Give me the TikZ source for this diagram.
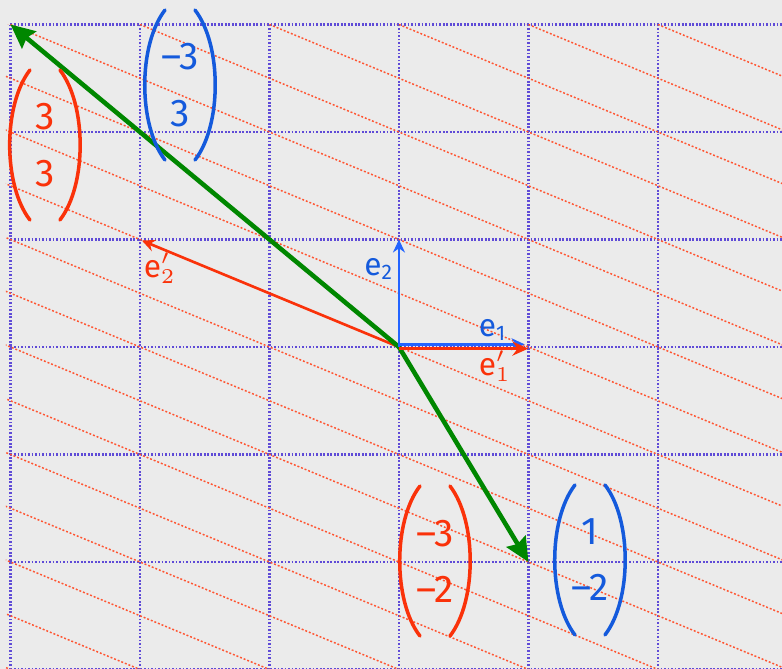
\documentclass[tikz,border=0pt]{standalone}
\usepackage{amsmath}
\usepackage{fontspec}
\setmainfont{Fira Sans}
\usepackage{tikz}
\usetikzlibrary{arrows.meta}
\definecolor{bgc}{RGB}{235,235,235}
\definecolor{gridc}{RGB}{95,75,215}
\definecolor{dotc}{RGB}{255,85,50}
\definecolor{redc}{RGB}{250,50,10}
\definecolor{bluec}{RGB}{20,90,220}
\definecolor{arrc}{RGB}{35,100,255}
\definecolor{greenc}{RGB}{0,135,0}

% hand drawn brackets round a column vector node
\newcommand\vecparens[2]{%
  \draw[#2,line width=1pt,line cap=round]
    ([shift={(-0.15cm,0.75cm)}]#1.center) .. controls ([shift={(-0.42cm,0.4cm)}]#1.center)
      and ([shift={(-0.42cm,-0.4cm)}]#1.center) .. ([shift={(-0.15cm,-0.75cm)}]#1.center)
    ([shift={(0.15cm,0.75cm)}]#1.center) .. controls ([shift={(0.42cm,0.4cm)}]#1.center)
      and ([shift={(0.42cm,-0.4cm)}]#1.center) .. ([shift={(0.15cm,-0.75cm)}]#1.center);}

\begin{document}
\begin{tikzpicture}[x=1.295cm,y=1.075cm,
  gridline/.style={gridc,line width=0.6pt,dash pattern=on 0.5pt off 0.5pt},
  dotline/.style={dotc,line width=0.42pt,dash pattern=on 0.55pt off 0.55pt},
  basis/.style={line width=0.75pt,-{Stealth[length=0.13cm,width=0.12cm]}},
  image/.style={greenc,line width=1.3pt,-{Stealth[length=0.24cm,width=0.22cm,inset=0.03cm]}},
  vec/.style={align=center,inner sep=0pt,font=\fontsize{11}{16}\selectfont},
  lbl/.style={inner sep=0pt,font=\fontsize{9}{10}\selectfont}]
  \fill[bgc] (-3.081,-2.995) rectangle (2.958,3.228);
  \useasboundingbox (-3.081,-2.995) rectangle (2.958,3.228);
  % grid
  \foreach \i in {-3,...,2} \draw[gridline] (\i,-3) -- (\i,3);
  \foreach \j in {-3,...,3} \draw[gridline] (-3,\j) -- (2.958,\j);
  % lines x+2y=k
  \begin{scope}
    \clip (-3.035,-3) rectangle (2.958,3);
    \foreach \k in {-10,...,10} \draw[dotline] (\k+7,-3.5) -- (\k-7,3.5);
  \end{scope}
  \coordinate (o) at (0,0);
  \coordinate (o1) at (0,0.025);
  \coordinate (o2) at (0,-0.015);
  \coordinate (e1) at (0.97,0.025);
  \coordinate (e2) at (0,1);
  \coordinate (f1) at (1,-0.015);
  \coordinate (f2) at (-1.985,0.99);
  \coordinate (u) at (-3,3);
  \coordinate (w) at (1,-2);
  \draw[basis,redc] (o) -- (f2);
  \draw[image] (o) -- (u);
  \draw[image] (o) -- (w);
  \draw[basis,arrc] (o) -- (e2);
  \draw[basis,arrc] (o1) -- (e1);
  \draw[basis,redc,-{Stealth[length=0.16cm,width=0.14cm]}] (o2) -- (f1);
  \node[lbl,bluec] (le2) at (-0.154,0.726) {e\textsubscript{2}};
  \node[lbl,bluec] (le1) at (0.726,0.158) {e\textsubscript{1}};
  \node[lbl,redc] (lf1) at (0.741,-0.177) {e$^{\prime}_{1}$};
  \node[lbl,redc] (lf2) at (-1.846,0.735) {e$^{\prime}_{2}$};
  % coordinate columns
  \node[vec,redc] (ur) at (-2.734,1.879) {3\\3};
  \node[vec,bluec] (ub) at (-1.691,2.437) {--3\\3};
  \node[vec,redc] (wr) at (0.278,-1.991) {--3\\--2};
  \node[vec,bluec] (wb) at (1.475,-1.981) {1\\--2};
  \vecparens{ur}{redc}
  \vecparens{ub}{bluec}
  \vecparens{wr}{redc}
  \vecparens{wb}{bluec}
\end{tikzpicture}
\end{document}
